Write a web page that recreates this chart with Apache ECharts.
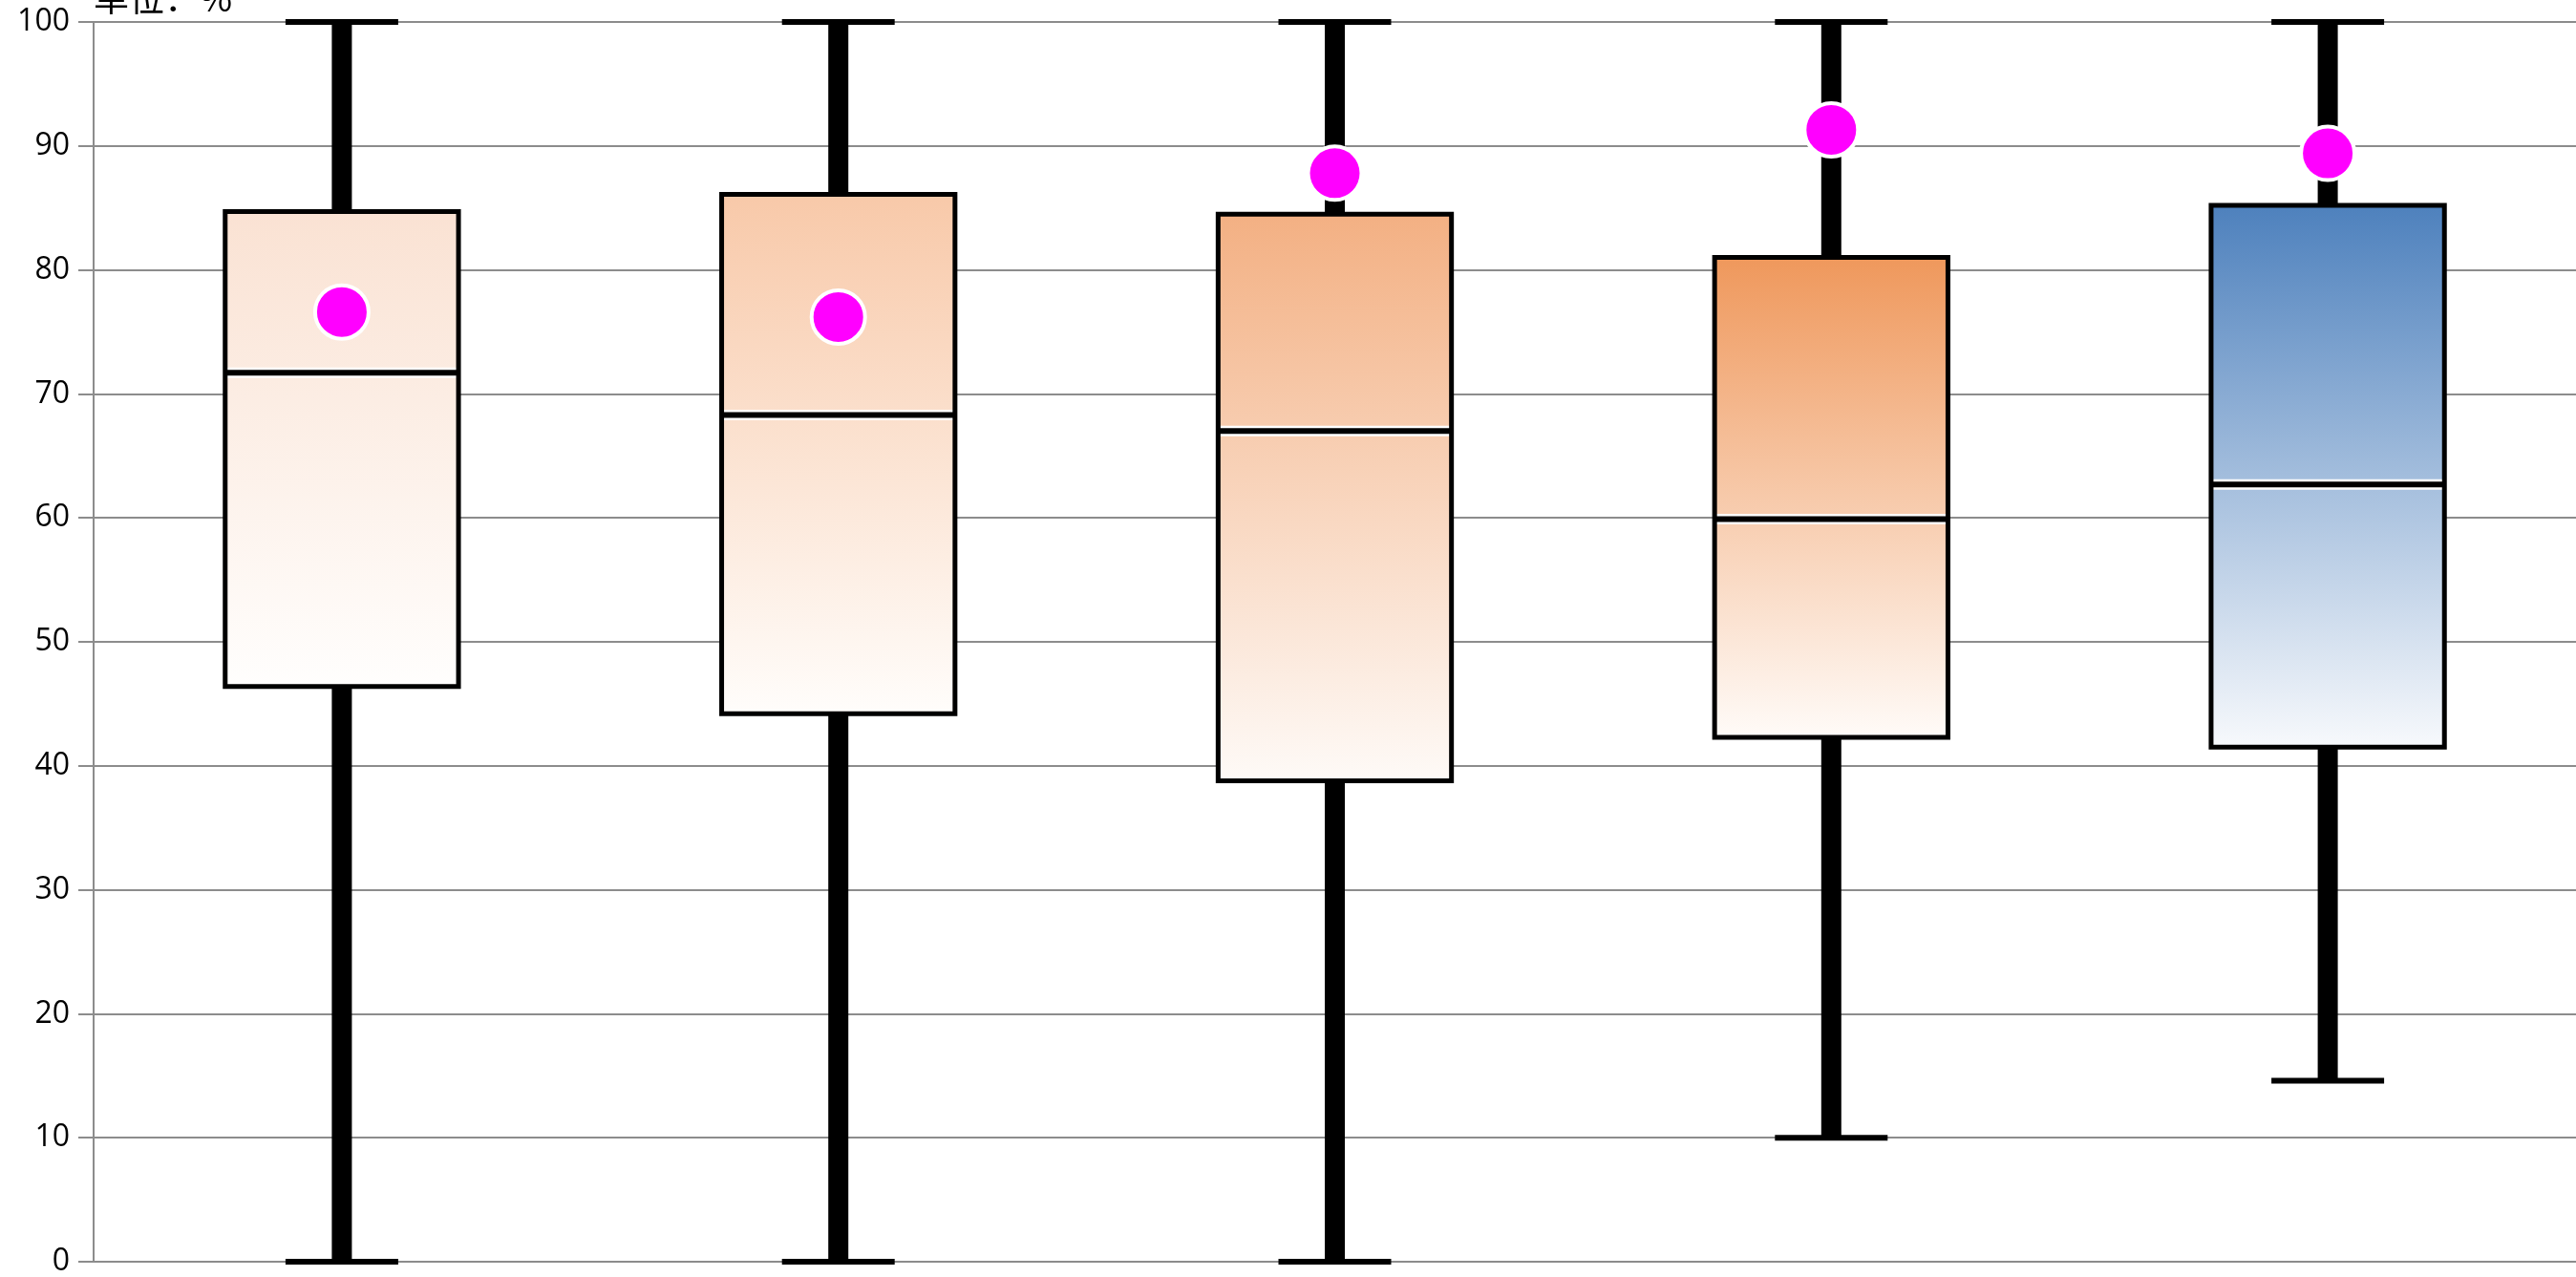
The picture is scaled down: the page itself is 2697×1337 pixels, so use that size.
<!DOCTYPE html>
<html>
<head>
<meta charset="utf-8">
<script src="https://cdn.jsdelivr.net/npm/echarts@6/dist/echarts.min.js"></script>
<style>
  html, body { margin: 0; padding: 0; background: #fff; }
  #main { width: 2697px; height: 1337px; }
</style>
</head>
<body>
<div id="main"></div>
<script>
// five groups, no x labels shown in the picture
var categories = ['1', '2', '3', '4', '5'];
var lowVals = [0, 0, 0, 10, 14.6];
var q1Vals = [46.4, 44.2, 38.8, 42.3, 41.5];
var medianVals = [71.7, 68.3, 67.0, 59.9, 62.7];
var q3Vals = [84.7, 86.1, 84.5, 81.0, 85.2];
var highVals = [100, 100, 100, 100, 100];
var meanVals = [76.6, 76.2, 87.8, 91.3, 89.4];
var yTicks = [0, 10, 20, 30, 40, 50, 60, 70, 80, 90, 100];

var topColors = ['#fae2d3', '#f8c9a9', '#f3b083', '#ef985c', '#4e81bd'];
var bottomColors = ['#fffefd', '#fffdfb', '#fefaf7', '#fffbf8', '#f7f9fc'];

var boxData = categories.map(function (c, i) {
  return [i, lowVals[i], q1Vals[i], medianVals[i], q3Vals[i], highVals[i]];
});
var meanData = categories.map(function (c, i) {
  return [i, meanVals[i]];
});

function renderBox(params, api) {
  var x = api.value(0);
  var lo = api.coord([x, api.value(1)]);
  var q1 = api.coord([x, api.value(2)]);
  var md = api.coord([x, api.value(3)]);
  var q3 = api.coord([x, api.value(4)]);
  var hi = api.coord([x, api.value(5)]);
  var band = api.size([1, 0])[0];
  var bw = band * 0.47;
  var cw = band * 0.227;
  var cx = lo[0];
  var i = params.dataIndex;
  var grad = new echarts.graphic.LinearGradient(0, 0, 0, 1, [
    { offset: 0, color: topColors[i] },
    { offset: 1, color: bottomColors[i] }
  ]);
  return {
    type: 'group',
    children: [
      { type: 'line', shape: { x1: cx, y1: lo[1], x2: cx, y2: hi[1] }, style: { stroke: '#000', lineWidth: 21 } },
      { type: 'line', shape: { x1: cx - cw / 2, y1: lo[1], x2: cx + cw / 2, y2: lo[1] }, style: { stroke: '#000', lineWidth: 6 } },
      { type: 'line', shape: { x1: cx - cw / 2, y1: hi[1], x2: cx + cw / 2, y2: hi[1] }, style: { stroke: '#000', lineWidth: 6 } },
      { type: 'rect', shape: { x: cx - bw / 2, y: q3[1], width: bw, height: q1[1] - q3[1] }, style: { fill: grad, stroke: 'none' } },
      { type: 'line', shape: { x1: cx - bw / 2, y1: md[1], x2: cx + bw / 2, y2: md[1] }, style: { stroke: '#fff', lineWidth: 11 } },
      { type: 'line', shape: { x1: cx - bw / 2, y1: md[1], x2: cx + bw / 2, y2: md[1] }, style: { stroke: '#000', lineWidth: 6 } },
      { type: 'rect', shape: { x: cx - bw / 2, y: q3[1], width: bw, height: q1[1] - q3[1] }, style: { fill: 'none', stroke: '#000', lineWidth: 5 } }
    ]
  };
}

var chart = echarts.init(document.getElementById('main'));
var option = {
  backgroundColor: '#ffffff',
  animation: false,
  title: {
    text: '单位：%',
    left: 98,
    top: -21,
    padding: 0,
    textStyle: { fontFamily: 'Noto Sans CJK SC', fontSize: 37, fontWeight: 'normal', color: '#000' }
  },
  grid: { left: 98, right: 0, top: 23, bottom: 14, containLabel: false },
  xAxis: {
    type: 'category',
    data: categories,
    axisLine: { show: true, lineStyle: { color: '#8c8c8c', width: 2 } },
    axisTick: { show: false },
    axisLabel: { show: false },
    splitLine: { show: false }
  },
  yAxis: {
    type: 'value',
    min: yTicks[0],
    max: yTicks[yTicks.length - 1],
    interval: 10,
    axisLine: { show: true, lineStyle: { color: '#8c8c8c', width: 2 } },
    axisTick: { show: true, length: 16, lineStyle: { color: '#8c8c8c', width: 2 } },
    axisLabel: { margin: 25, fontSize: 32, color: '#000', fontFamily: 'Open Sans' },
    splitLine: { show: true, lineStyle: { color: '#8c8c8c', width: 2 } }
  },
  series: [
    {
      type: 'custom',
      renderItem: renderBox,
      data: boxData,
      encode: { x: 0, y: [1, 2, 3, 4, 5] },
      z: 2
    },
    {
      type: 'scatter',
      data: meanData,
      symbol: 'circle',
      symbolSize: 56,
      itemStyle: { color: '#ff00ff', borderColor: '#ffffff', borderWidth: 4, opacity: 1 },
      z: 5
    }
  ]
};
chart.setOption(option);
</script>
</body>
</html>
